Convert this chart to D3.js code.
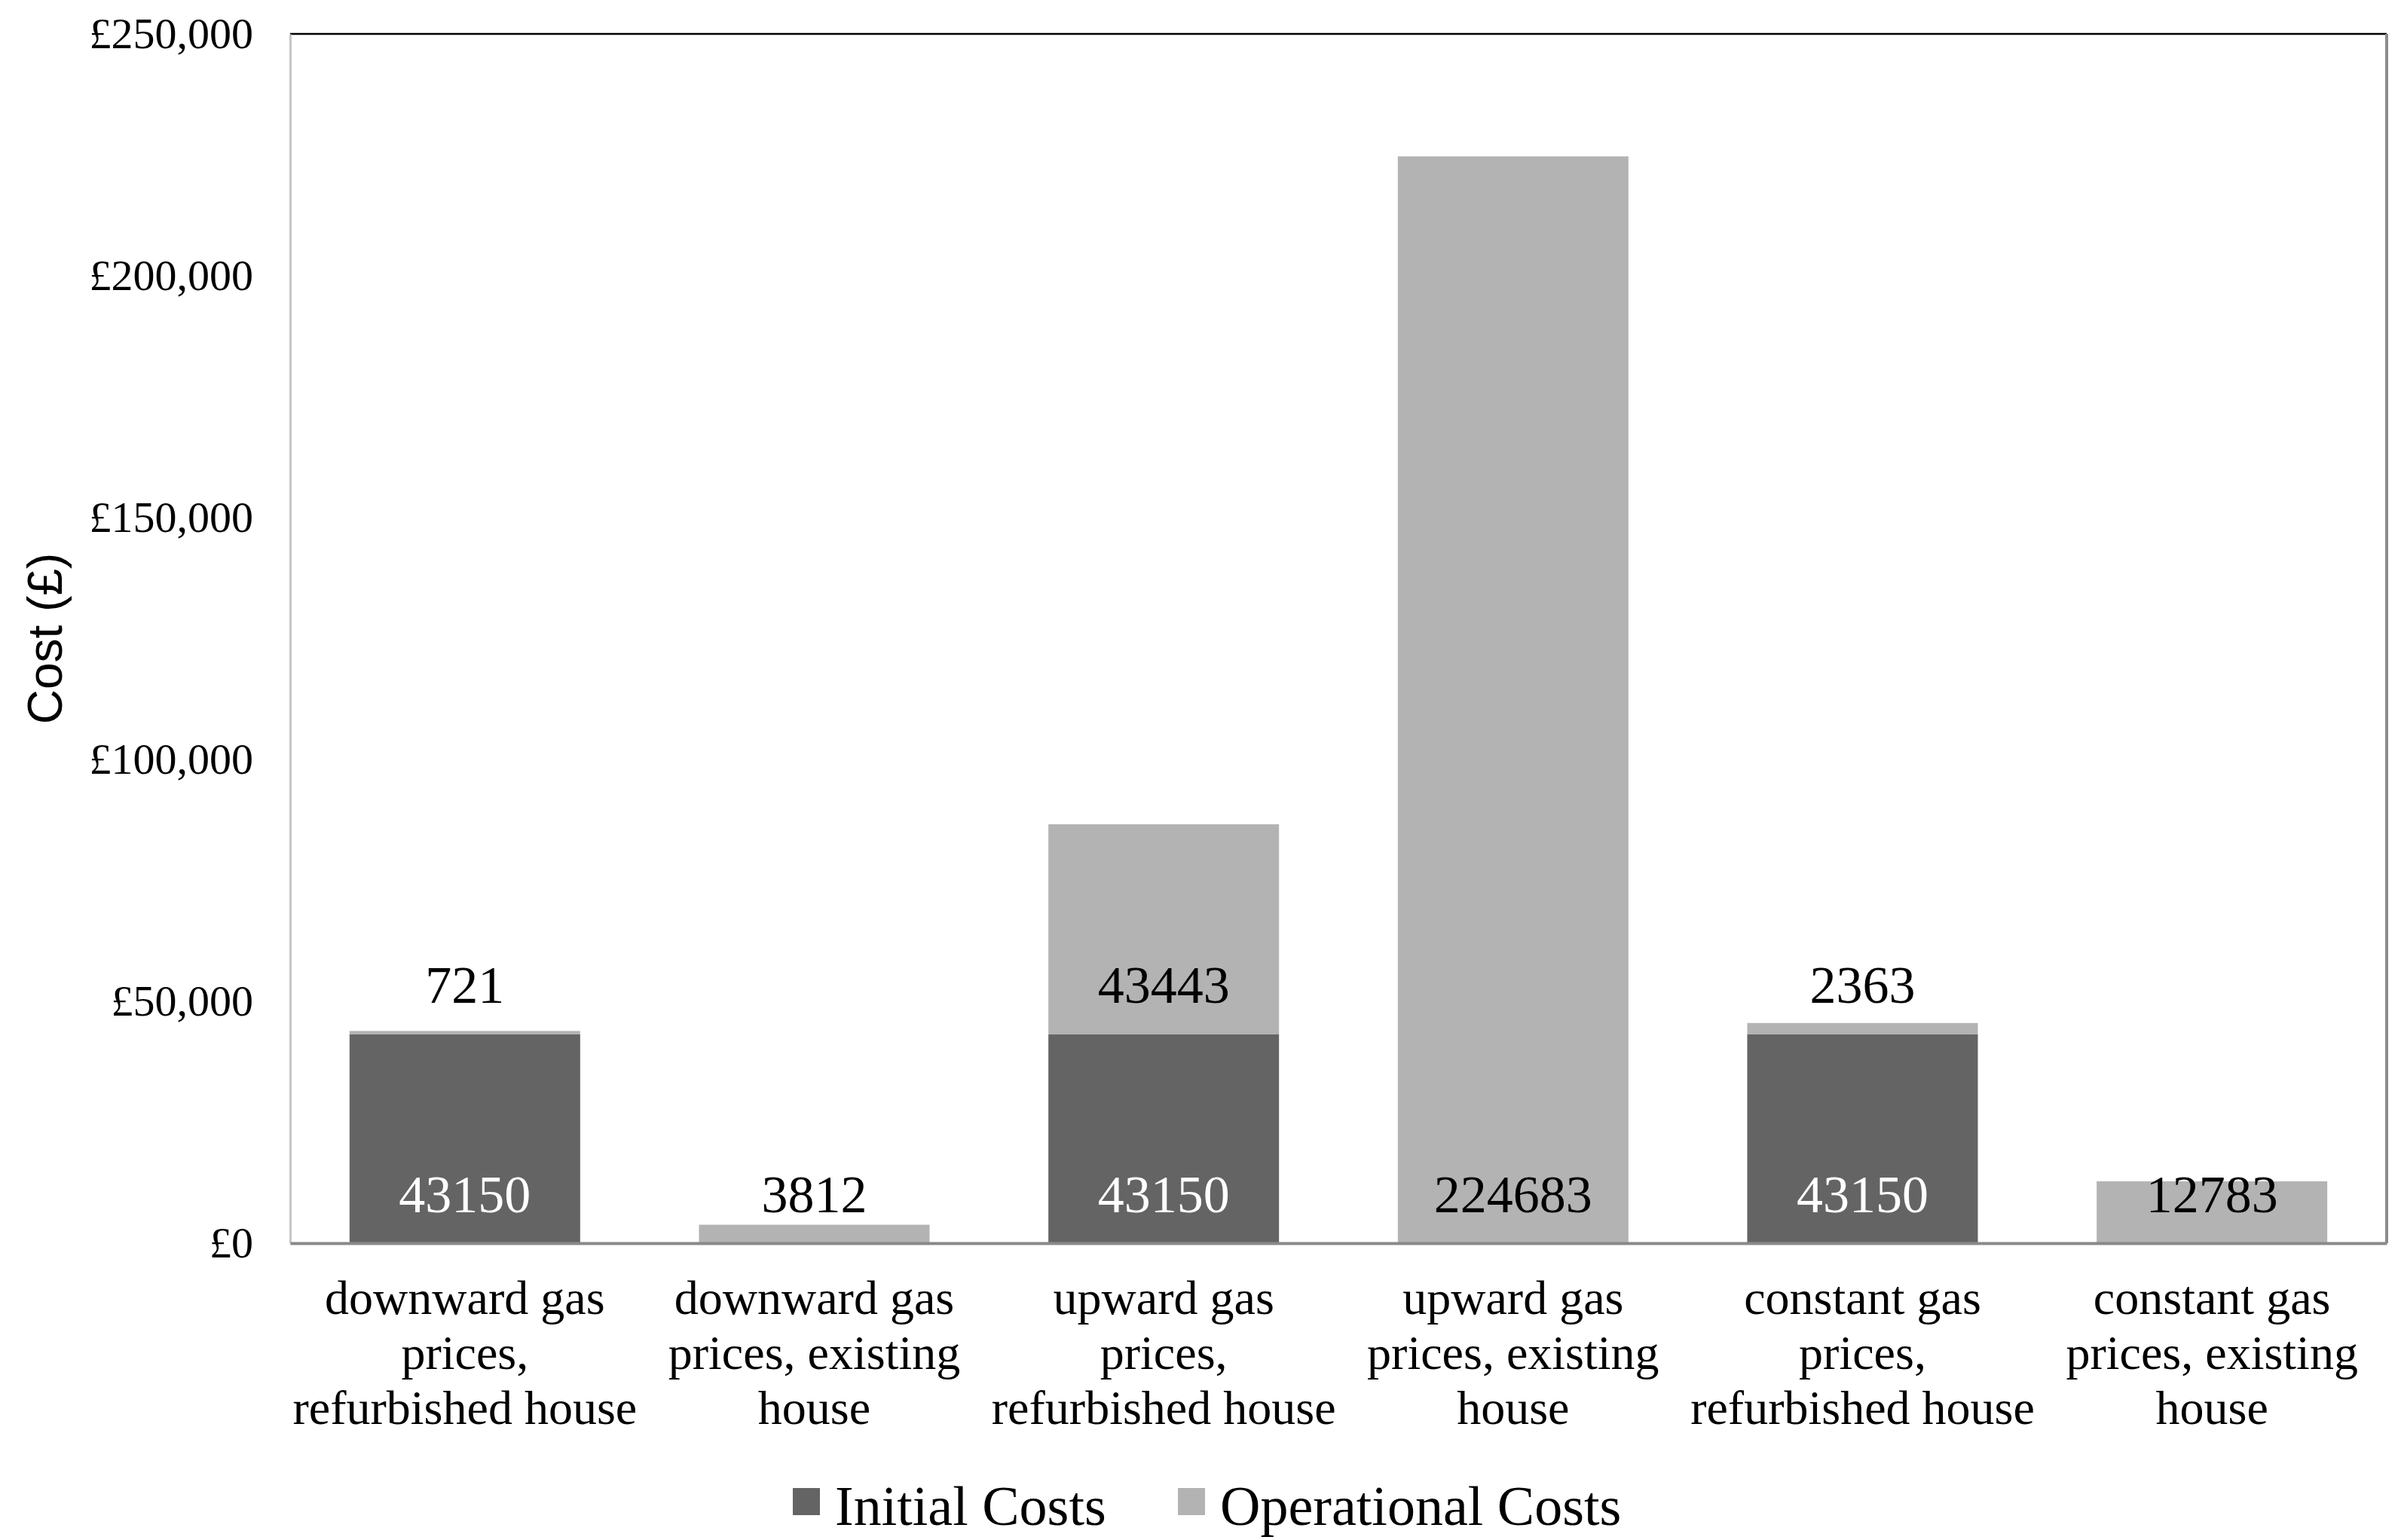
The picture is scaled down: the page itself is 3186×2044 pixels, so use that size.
<!DOCTYPE html>
<html>
<head>
<meta charset="utf-8">
<script src="https://cdn.jsdelivr.net/npm/d3@7"></script>
<style>
  html, body { margin: 0; padding: 0; background: #fff; }
  svg { display: block; }
</style>
</head>
<body>
<svg id="chart" width="3186" height="2044"></svg>
<script>
// ---- data ----
const categories = [
  ["downward gas", "prices,", "refurbished house"],
  ["downward gas", "prices, existing", "house"],
  ["upward gas", "prices,", "refurbished house"],
  ["upward gas", "prices, existing", "house"],
  ["constant gas", "prices,", "refurbished house"],
  ["constant gas", "prices, existing", "house"]
];
const initialCosts = [43150, 0, 43150, 0, 43150, 0];
const operationalCosts = [721, 3812, 43443, 224683, 2363, 12783];
const seriesNames = ["Initial Costs", "Operational Costs"];
const yTicks = [0, 50000, 100000, 150000, 200000, 250000];

// ---- layout ----
const W = 3186, H = 2044;
const m = { left: 385, right: W - 3167, top: 45, bottom: H - 1650 };
const pw = W - m.left - m.right, ph = H - m.top - m.bottom;
const colors = ["#646464", "#b3b3b3"];
const serif = "'Liberation Serif', 'Times New Roman', serif";
const sans = "'Liberation Sans', Arial, sans-serif";

const svg = d3.select("#chart");
const g = svg.append("g").attr("transform", `translate(${m.left},${m.top})`);

const x = d3.scaleBand().domain(d3.range(categories.length)).range([0, pw])
  .paddingInner(0.34).paddingOuter(0.17);
const y = d3.scaleLinear().domain([0, 250000]).range([ph, 0]);

const rows = categories.map((c, i) => ({ i, init: initialCosts[i], op: operationalCosts[i] }));
const stack = d3.stack().keys(["init", "op"])(rows);

// bars
stack.forEach((layer, k) => {
  g.append("g").selectAll("rect").data(layer).join("rect")
    .attr("x", d => x(d.data.i))
    .attr("width", x.bandwidth())
    .attr("y", d => y(d[1]))
    .attr("height", d => y(d[0]) - y(d[1]))
    .attr("fill", colors[k]);
});

// frame: top black, right grey
g.append("line").attr("x1", 0).attr("x2", pw).attr("y1", 0).attr("y2", 0)
  .attr("stroke", "#000").attr("stroke-width", 2.5);
g.append("line").attr("x1", pw).attr("x2", pw).attr("y1", 0).attr("y2", ph)
  .attr("stroke", "#8c8c8c").attr("stroke-width", 4);

// y axis
const yAxis = g.append("g").call(d3.axisLeft(y).tickValues(yTicks).tickSize(0).tickPadding(49)
  .tickFormat(d => "£" + d3.format(",")(d)));
yAxis.select(".domain").attr("stroke", "#c6c6c6").attr("stroke-width", 3);
yAxis.selectAll("text").attr("font-family", serif).attr("font-size", 58).attr("fill", "#000");

// x axis
const xAxis = g.append("g").attr("transform", `translate(0,${ph})`)
  .call(d3.axisBottom(x).tickSize(0).tickFormat(""));
xAxis.select(".domain").attr("stroke", "#898989").attr("stroke-width", 4);
xAxis.selectAll(".tick").each(function (i) {
  const t = d3.select(this).append("text")
    .attr("font-family", serif).attr("font-size", 64).attr("fill", "#000")
    .attr("text-anchor", "middle");
  categories[i].forEach((line, j) => {
    t.append("tspan").attr("x", 0).attr("y", 94 + j * 73).text(line);
  });
});

// value labels (inside base)
stack.forEach((layer, k) => {
  g.append("g").selectAll("text").data(layer.filter(d => d[1] - d[0] > 0)).join("text")
    .attr("x", d => x(d.data.i) + x.bandwidth() / 2)
    .attr("y", d => y(d[0]) - 66)
    .attr("dy", "0.35em")
    .attr("text-anchor", "middle")
    .attr("font-family", serif).attr("font-size", 70)
    .attr("fill", k === 0 ? "#fff" : "#000")
    .text(d => d[1] - d[0]);
});

// y title
svg.append("text")
  .attr("transform", `translate(60,${m.top + ph / 2}) rotate(-90)`)
  .attr("text-anchor", "middle").attr("dy", "0.35em")
  .attr("font-family", sans).attr("font-size", 64).attr("fill", "#000")
  .text("Cost (£)");

// legend
const legendX = [1052, 1563];
const leg = svg.append("g");
seriesNames.forEach((name, k) => {
  leg.append("rect").attr("x", legendX[k]).attr("y", 1975).attr("width", 36).attr("height", 36)
    .attr("fill", colors[k]);
  leg.append("text").attr("x", legendX[k] + 56).attr("y", 1998).attr("dy", "0.35em")
    .attr("font-family", serif).attr("font-size", 74).attr("fill", "#000").text(name);
});
</script>
</body>
</html>
